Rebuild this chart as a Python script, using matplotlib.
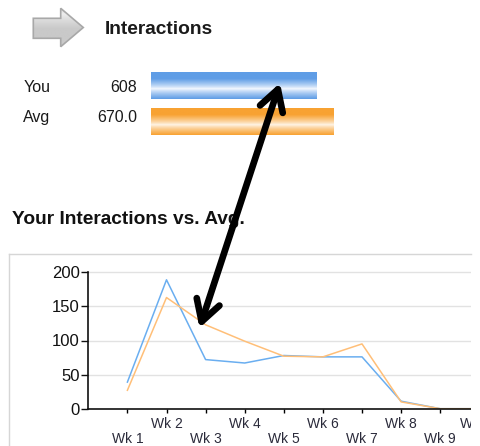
import numpy as np
import matplotlib
matplotlib.use("Agg")
import matplotlib.pyplot as plt
from matplotlib.patches import Polygon, Rectangle

plt.rcParams['font.family'] = ['Liberation Sans', 'DejaVu Sans']

# summary bars
bar_labels = ['You', 'Avg']
bar_values = [608, 670.0]
bar_texts = ['608', '670.0']

# weekly series
weeks = ['Wk 1', 'Wk 2', 'Wk 3', 'Wk 4', 'Wk 5', 'Wk 6', 'Wk 7', 'Wk 8', 'Wk 9', 'Wk 10']
you_vals = [39, 189, 72, 67, 78, 76, 76, 11, 0, 0]
avg_vals = [27, 163, 123, 99, 77, 76, 95, 10, 0, 0]

W, H = 480, 446
fig = plt.figure(figsize=(W / 100, H / 100), dpi=100)


def px_axes(x0, y0, x1, y1):
    # axes placed by pixel box (top-left origin)
    return fig.add_axes([x0 / W, (H - y1) / H, (x1 - x0) / W, (y1 - y0) / H])


def gradient(c_edge, c_mid, n=64, mid=0.62):
    t = np.linspace(0, 1, n)
    w = np.clip(np.abs(t - mid) / 0.38, 0, 1) ** 0.8
    a = np.array(matplotlib.colors.to_rgb(c_edge))
    b = np.array(matplotlib.colors.to_rgb(c_mid))
    return (b[None, :] * (1 - w[:, None]) + a[None, :] * w[:, None])[:, None, :]


# ---- summary bars ----
bar_ax = px_axes(150.7, 67.0, 480, 140.3)
bar_ax.axis('off')
grads = [gradient('#5f9de6', '#f7faff'), gradient('#f8a232', '#fff6ea')]
for i, v in enumerate(bar_values):
    bar_ax.imshow(grads[i], extent=[0, v, i + 0.36, i - 0.36], aspect='auto',
                  interpolation='bilinear')
bar_ax.set_xlim(0, (480 - 150.7) / (166 / 608))
bar_ax.set_ylim(1.5, -0.5)

# ---- line chart ----
ax = px_axes(88.3, 272.3, 480, 408.7)
x = np.arange(1, len(weeks) + 1)
ax.plot(x, you_vals, color='#6aaef0', lw=1.1)
ax.plot(x, avg_vals, color='#ffbf78', lw=1.1)
ax.set_xlim(0, (480 - 88.3) / 39.1)
ax.set_ylim(0, 200)
ax.set_yticks([0, 50, 100, 150, 200])
ax.tick_params(axis='y', length=5, width=1, pad=1, labelsize=12, colors='#111111')
ax.grid(axis='y', color='#e2e2e2', lw=1)
ax.set_axisbelow(True)
for s in ['top', 'right']:
    ax.spines[s].set_visible(False)
for s in ['left', 'bottom']:
    ax.spines[s].set_linewidth(1.2)
    ax.spines[s].set_color('#111111')
# staggered week labels: even weeks on the upper row, odd ones below
ax.set_xticks(x[1::2], weeks[1::2])
ax.set_xticks(x[0::2], weeks[0::2], minor=True)
ax.tick_params(axis='x', which='both', length=3, width=1, labelsize=10,
               labelcolor='#2a2a3a')
ax.tick_params(axis='x', which='major', pad=3)
ax.tick_params(axis='x', which='minor', pad=14)
ax.yaxis.get_gridlines()[-1].set_clip_on(False)

# ---- overlay: texts, icon, frame, arrow ----
deco = fig.add_axes([0, 0, 1, 1])
deco.axis('off')
deco.set_zorder(10)
deco.patch.set_visible(False)

# grey block arrow icon
icon = [(33.3, 18.3), (60.7, 18.3), (60.7, 8.3), (83.3, 27.5),
        (60.7, 46.7), (60.7, 38.3), (33.3, 38.3)]
poly = Polygon(icon, closed=True, facecolor='none', edgecolor='#a8a8a8', lw=1.2)
deco.add_patch(poly)
im = deco.imshow(gradient('#c9c9c9', '#eeeeee', mid=0.15), extent=[33, 84, 47, 8],
                 aspect='auto', interpolation='bilinear')
im.set_clip_path(poly)
deco.set_xlim(0, W)
deco.set_ylim(H, 0)

deco.text(105, 34.3, 'Interactions', fontsize=13.8, fontweight='bold',
          color='#1a1a1a', va='baseline')
deco.text(11.7, 224.3, 'Your Interactions vs. Avg.', fontsize=13.8,
          fontweight='bold', color='#111111', va='baseline')
for i, (lab, txt) in enumerate(zip(bar_labels, bar_texts)):
    yb = 91.7 + i * 30
    deco.text(23.3, yb, lab, fontsize=11.5, color='#1a1a1a', va='baseline')
    deco.text(137.3, yb, txt, fontsize=11.5, color='#1a1a1a', va='baseline',
              ha='right')

# chart panel frame (top and left edges) and clipped right strip
deco.plot([9, 470.7], [254, 254], color='#d6d6d6', lw=1)
deco.plot([9, 9], [254, H], color='#d6d6d6', lw=1)
deco.add_patch(Rectangle((470.7, 250), 12, 200, facecolor='white', edgecolor='none'))

# big double-headed arrow
deco.annotate('', xy=(199.5, 328), xytext=(280, 83),
              arrowprops=dict(arrowstyle='<->,head_length=15,head_width=8.6',
                              mutation_scale=1, lw=4.8, color='black',
                              shrinkA=0, shrinkB=0, capstyle='round',
                              joinstyle='round'))

fig.savefig('out.png', dpi=100)
